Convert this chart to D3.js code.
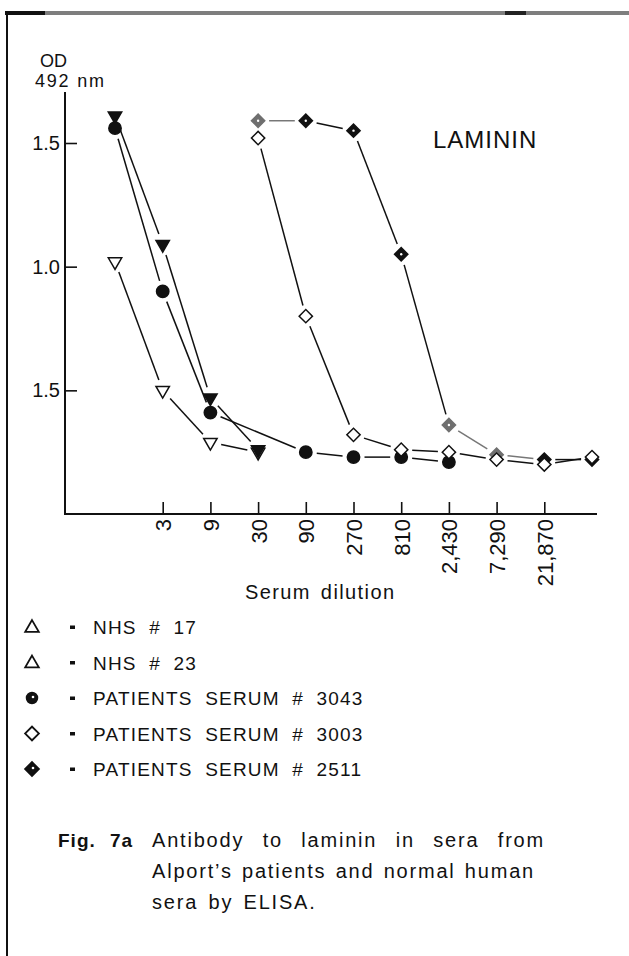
<!DOCTYPE html>
<html>
<head>
<meta charset="utf-8">
<script src="https://cdn.jsdelivr.net/npm/d3@7/dist/d3.min.js"></script>
<style>
  html, body { margin: 0; padding: 0; background: #fff; }
  svg { display: block; }
  text { font-family: "Liberation Sans", Arial, sans-serif; fill: #111; }
</style>
</head>
<body>
<svg id="chart" width="629" height="956"></svg>
<script>
// ---------- data ----------
const dilutions = ["1", "3", "9", "30", "90", "270", "810", "2,430", "7,290", "21,870", "65,610"];
const xTickLabels = ["3", "9", "30", "90", "270", "810", "2,430", "7,290", "21,870"];
const yTickValues = [0.5, 1.0, 1.5];
const yTickLabels = ["1.5", "1.0", "1.5"];

const nhs17   = [1.02, 0.50, 0.29, 0.25, null, null, null, null, null, null, null];
const nhs23   = [1.61, 1.09, 0.47, 0.26, null, null, null, null, null, null, null];
const pat3043 = [1.56, 0.90, 0.41, null, 0.25, 0.23, 0.23, 0.21, null, null, null];
const pat3003 = [null, null, null, 1.52, 0.80, 0.32, 0.26, 0.25, 0.22, 0.20, 0.23];
const pat2511 = [null, null, null, 1.59, 1.59, 1.55, 1.05, 0.36, 0.24, 0.22, 0.22];

const legendLabels = ["NHS # 17", "NHS # 23", "PATIENTS SERUM # 3043", "PATIENTS SERUM # 3003", "PATIENTS SERUM # 2511"];
const chartTitle = "LAMININ";
const xTitle = "Serum dilution";
const yTitle1 = "OD";
const yTitle2 = "492 nm";
const captionLabel = "Fig. 7a";
const captionLines = ["Antibody to laminin in sera from", "Alport\u2019s patients and normal human", "sera by ELISA."];

// ---------- drawing ----------
const svg = d3.select("#chart");
svg.append("rect").attr("width", 629).attr("height", 956).attr("fill", "#fff");

// page frame (scan border)
svg.append("line").attr("x1", 5).attr("x2", 629).attr("y1", 13).attr("y2", 13)
  .attr("stroke", "#7e7e7e").attr("stroke-width", 4);
svg.append("line").attr("x1", 5).attr("x2", 45).attr("y1", 13).attr("y2", 13)
  .attr("stroke", "#111").attr("stroke-width", 4);
svg.append("line").attr("x1", 505).attr("x2", 526).attr("y1", 13).attr("y2", 13)
  .attr("stroke", "#222").attr("stroke-width", 4);
svg.append("line").attr("x1", 7).attr("x2", 7).attr("y1", 11).attr("y2", 956)
  .attr("stroke", "#111").attr("stroke-width", 2);

const axisX = 65;
const x = d3.scalePoint().domain(dilutions).range([115, 592]);
const y = d3.scaleLinear().domain([0, 1.5]).range([514, 143]);

// axes lines
svg.append("line").attr("x1", axisX).attr("x2", axisX).attr("y1", 92).attr("y2", y(0) + 1)
  .attr("stroke", "#111").attr("stroke-width", 2);
svg.append("line").attr("x1", axisX).attr("x2", x(dilutions[dilutions.length - 1]) + 5)
  .attr("y1", y(0)).attr("y2", y(0)).attr("stroke", "#111").attr("stroke-width", 2);

// y axis ticks
const yAxis = d3.axisLeft(y).tickValues(yTickValues).tickSizeInner(-12).tickSizeOuter(0)
  .tickPadding(5).tickFormat((d, i) => yTickLabels[i]);
const gy = svg.append("g").attr("transform", `translate(${axisX},0)`).call(yAxis);
gy.select(".domain").remove();
gy.selectAll(".tick line").attr("stroke", "#111").attr("stroke-width", 1.6);
gy.selectAll(".tick text").style("font-family", "Liberation Sans, Arial, sans-serif")
  .style("font-size", "20px").attr("fill", "#111");

// x axis ticks
const xAxis = d3.axisBottom(x).tickValues(xTickLabels).tickSizeInner(-12).tickSizeOuter(0);
const gx = svg.append("g").attr("transform", `translate(0,${y(0)})`).call(xAxis);
gx.select(".domain").remove();
gx.selectAll(".tick line").attr("stroke", "#111").attr("stroke-width", 1.6);
gx.selectAll(".tick text")
  .attr("transform", "rotate(-90)")
  .attr("text-anchor", "end")
  .attr("x", -5).attr("y", 0).attr("dy", "0.36em")
  .style("font-family", "Liberation Sans, Arial, sans-serif")
  .style("font-size", "22px").attr("fill", "#111");

// titles
svg.append("text").attr("x", 40).attr("y", 67).style("font-size", "18px").text(yTitle1);
svg.append("text").attr("x", 35).attr("y", 87).style("font-size", "18px")
  .style("letter-spacing", "1.8px").text(yTitle2);
svg.append("text").attr("x", 433).attr("y", 148).style("font-size", "24px")
  .style("letter-spacing", "1px").text(chartTitle);
svg.append("text").attr("x", 245).attr("y", 599).style("font-size", "20px")
  .style("letter-spacing", "1.4px").style("word-spacing", "3px").text(xTitle);

// series
const series = [
  { key: "nhs17", values: nhs17, shape: "triDown", fill: "#fff" },
  { key: "nhs23", values: nhs23, shape: "triDown", fill: "#111" },
  { key: "p3043", values: pat3043, shape: "circle", fill: "#111" },
  { key: "p2511", values: pat2511, shape: "diamond", fill: "#111", dot: true },
  { key: "p3003", values: pat3003, shape: "diamond", fill: "#fff" }
];
const fadedIdx = { p2511: [3, 7, 8] };
const gap = 11;

function symbolPath(shape) {
  if (shape === "circle") return d3.symbol(d3.symbolCircle, 120)();
  if (shape === "triDown") return d3.symbol(d3.symbolTriangle, 78)();
  return d3.symbol(d3.symbolSquare, 88)();
}
function symbolRotate(shape) {
  if (shape === "triDown") return 180;
  if (shape === "diamond") return 45;
  return 0;
}

const lineLayer = svg.append("g");
const markLayer = svg.append("g");

series.forEach(s => {
  const pts = s.values.map((v, i) => ({ i, v })).filter(p => p.v !== null)
    .map(p => ({ i: p.i, px: x(dilutions[p.i]), py: y(p.v) }));
  const faded = fadedIdx[s.key] || [];
  for (let k = 0; k < pts.length - 1; k++) {
    const a = pts[k], b = pts[k + 1];
    const dx = b.px - a.px, dy = b.py - a.py, len = Math.hypot(dx, dy);
    if (len <= 2 * gap) continue;
    const ux = dx / len, uy = dy / len;
    lineLayer.append("line")
      .attr("x1", a.px + ux * gap).attr("y1", a.py + uy * gap)
      .attr("x2", b.px - ux * gap).attr("y2", b.py - uy * gap)
      .attr("stroke", faded.includes(a.i) ? "#777" : "#111")
      .attr("stroke-width", 1.5);
  }
  pts.forEach(p => {
    const col = faded.includes(p.i) ? "#6f6f6f" : "#111";
    const g = markLayer.append("g").attr("transform", `translate(${p.px},${p.py})`);
    g.append("path").attr("d", symbolPath(s.shape))
      .attr("transform", `rotate(${symbolRotate(s.shape)})`)
      .attr("fill", s.fill === "#fff" ? "#fff" : col)
      .attr("stroke", col).attr("stroke-width", 1.5);
    if (s.dot) g.append("circle").attr("r", 1.2).attr("fill", "#fff");
  });
});

// legend
const legendShapes = [
  { shape: "triUp", fill: "#fff" },
  { shape: "triUp", fill: "#fff" },
  { shape: "circle", fill: "#111", dot: true },
  { shape: "diamond", fill: "#fff" },
  { shape: "diamond", fill: "#111", dot: true }
];
const legend = svg.append("g");
legendLabels.forEach((lab, i) => {
  const cy = 627 + i * 35.5;
  const ls = legendShapes[i];
  const g = legend.append("g").attr("transform", `translate(32,${cy})`);
  let d, rot = 0;
  if (ls.shape === "triUp") d = d3.symbol(d3.symbolTriangle, 80)();
  else if (ls.shape === "circle") d = d3.symbol(d3.symbolCircle, 90)();
  else { d = d3.symbol(d3.symbolSquare, 95)(); rot = 45; }
  g.append("path").attr("d", d).attr("transform", `translate(0,${ls.shape === "triUp" ? 1 : 0}) rotate(${rot})`)
    .attr("fill", ls.fill).attr("stroke", "#111").attr("stroke-width", 1.8);
  if (ls.dot) g.append("circle").attr("r", 1.3).attr("cx", 1).attr("cy", -1).attr("fill", "#fff");
  legend.append("rect").attr("x", 70).attr("y", cy - 1.5).attr("width", 5).attr("height", 3.5).attr("fill", "#111");
  legend.append("text").attr("x", 93).attr("y", cy + 7).style("font-size", "19px")
    .style("letter-spacing", "1.2px").style("word-spacing", "6px").text(lab);
});

// caption
svg.append("text").attr("x", 58).attr("y", 847).style("font-size", "19px").style("font-weight", "bold")
  .style("letter-spacing", "1px").style("word-spacing", "8px").text(captionLabel);
const capWidths = [393, 383, null];
captionLines.forEach((ln, i) => {
  const t = svg.append("text").attr("x", 152).attr("y", 847 + i * 31).style("font-size", "20px")
    .style("letter-spacing", "1.8px").text(ln);
  if (capWidths[i]) {
    const nSpaces = ln.split(" ").length - 1;
    const w = t.node().getComputedTextLength();
    t.style("word-spacing", Math.max(0, (capWidths[i] - w) / nSpaces) + "px");
  } else {
    t.style("word-spacing", "3px");
  }
});
</script>
</body>
</html>
